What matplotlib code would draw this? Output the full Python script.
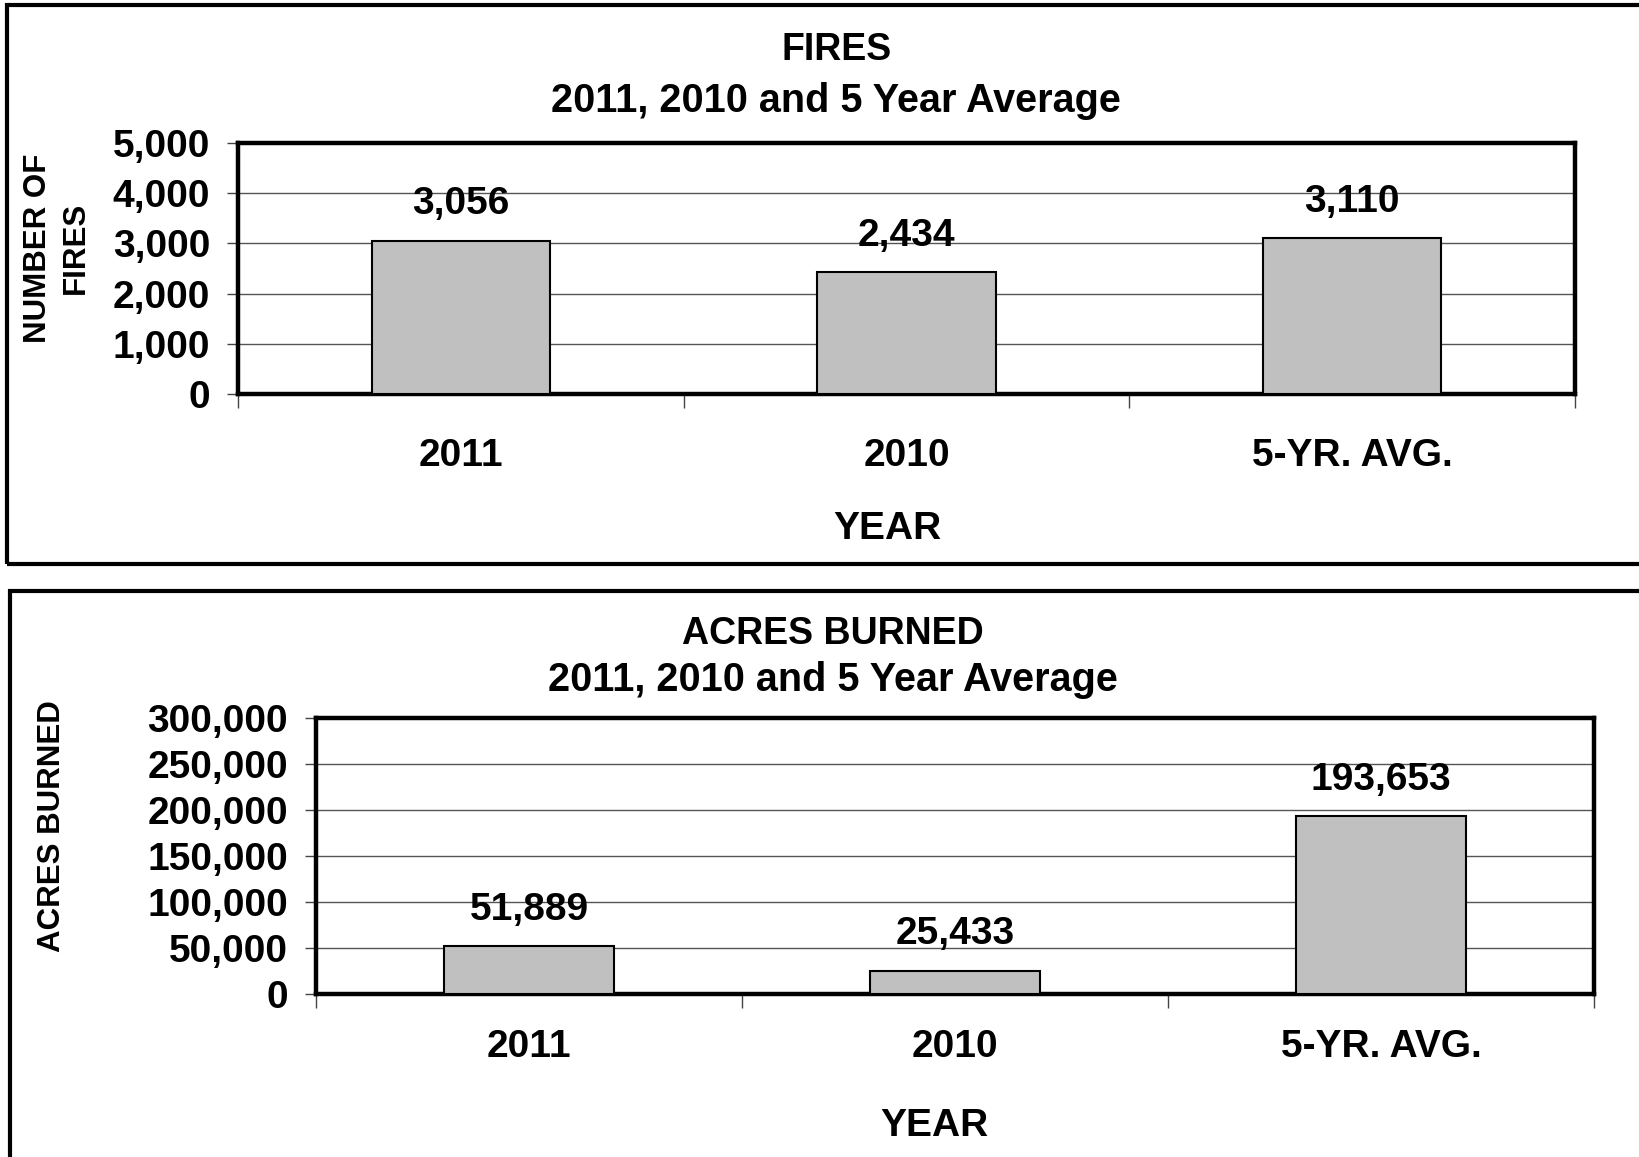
import matplotlib.pyplot as plt
from matplotlib.patches import Rectangle
from matplotlib.ticker import FuncFormatter, FixedLocator

categories = ['2011', '2010', '5-YR. AVG.']
fires = [3056, 2434, 3110]
acres = [51889, 25433, 193653]

plt.rcParams['font.family'] = ['Liberation Sans', 'DejaVu Sans']
plt.rcParams['font.weight'] = 'bold'

fig = plt.figure(figsize=(16.4, 11.57), dpi=100)

# panel boxes
fig.patches.append(Rectangle((7 / 1640, 1 - 564 / 1157), 1.0, (564 - 5) / 1157,
                             transform=fig.transFigure, fill=False, lw=3, ec='black'))
fig.patches.append(Rectangle((10 / 1640, -0.01), 1.0, 1 - 591 / 1157 + 0.01,
                             transform=fig.transFigure, fill=False, lw=3, ec='black'))

comma = FuncFormatter(lambda v, p: f'{int(v):,}')


def bar_panel(rect, values, ymax, step, label_pad):
    ax = fig.add_axes(rect)
    x = range(len(values))
    ax.bar(x, values, width=0.4, color='#C0C0C0', edgecolor='black', linewidth=1.5, zorder=3)
    ax.set_xlim(-0.5, len(values) - 0.5)
    ax.set_ylim(0, ymax)
    ax.set_yticks(range(0, ymax + 1, step))
    ax.yaxis.set_major_formatter(comma)
    ax.grid(axis='y', color='#555555', lw=1.0, zorder=0)
    ax.set_xticks(list(x))
    ax.set_xticklabels(categories)
    ax.xaxis.set_minor_locator(FixedLocator([i - 0.5 for i in range(len(values) + 1)]))
    ax.tick_params(axis='x', which='major', length=0, pad=label_pad, labelsize=28)
    ax.tick_params(axis='x', which='minor', length=10, width=1, color='#444444', direction='out')
    ax.tick_params(axis='y', length=8, width=1, color='#444444', pad=12, labelsize=28)
    for s in ax.spines.values():
        s.set_linewidth(3.2)
    for i, v in enumerate(values):
        ax.annotate(f'{v:,}', (i, v), xytext=(0, 26), textcoords='offset points',
                    ha='center', va='center', fontsize=28, fontweight='bold')
    return ax


bar_panel([238 / 1640, 1 - 394 / 1157, (1575 - 238) / 1640, (394 - 143) / 1157],
          fires, 5000, 1000, 32)
bar_panel([316 / 1640, 1 - 994 / 1157, (1594 - 316) / 1640, (994 - 718) / 1157],
          acres, 300000, 50000, 25)

# titles
fig.text(0.510, 1 - 50 / 1157, 'FIRES', ha='center', va='center', fontsize=27)
fig.text(0.510, 1 - 101 / 1157, '2011, 2010 and 5 Year Average', ha='center', va='center', fontsize=28.5)
fig.text(0.508, 1 - 634 / 1157, 'ACRES BURNED', ha='center', va='center', fontsize=27)
fig.text(0.508, 1 - 680 / 1157, '2011, 2010 and 5 Year Average', ha='center', va='center', fontsize=28.5)

# axis labels
fig.text(887 / 1640, 1 - 529 / 1157, 'YEAR', ha='center', va='center', fontsize=28)
fig.text(934 / 1640, 1 - 1126 / 1157, 'YEAR', ha='center', va='center', fontsize=28)
fig.text(57 / 1640, 1 - 248 / 1157, 'NUMBER OF\nFIRES', ha='center', va='center',
         rotation=90, fontsize=22.5, multialignment='center', linespacing=1.35)
fig.text(52 / 1640, 1 - 826 / 1157, 'ACRES BURNED', ha='center', va='center',
         rotation=90, fontsize=22.5)

fig.savefig('out.png', dpi=100)
